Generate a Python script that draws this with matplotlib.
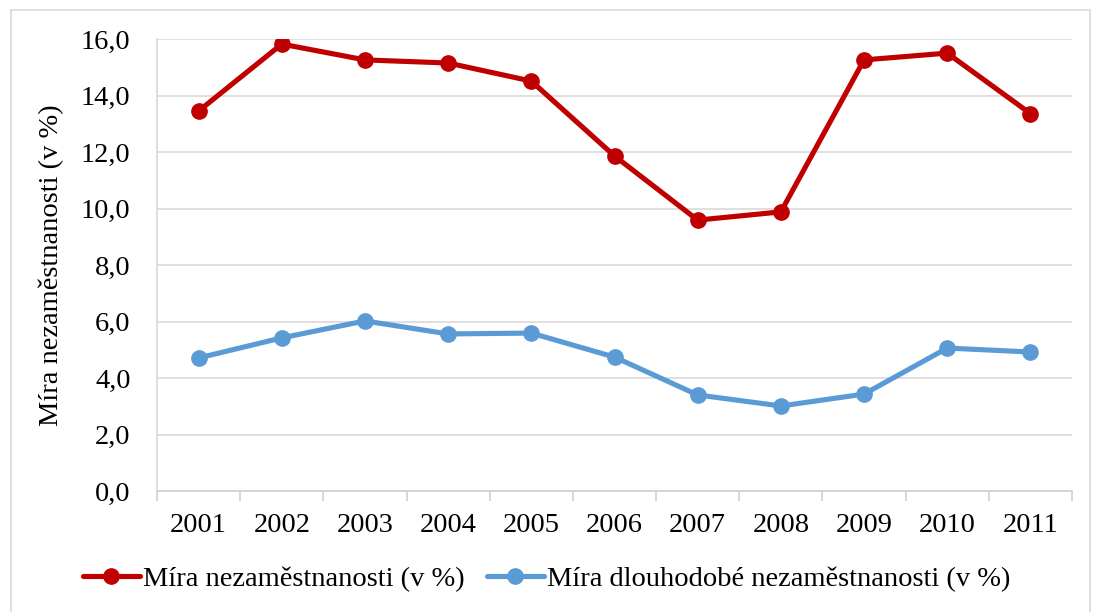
import matplotlib
matplotlib.use("Agg")
import matplotlib.pyplot as plt
from matplotlib.patches import Rectangle

years = ["2001", "2002", "2003", "2004", "2005", "2006", "2007", "2008", "2009", "2010", "2011"]
unemployment = [13.45, 15.82, 15.26, 15.15, 14.51, 11.86, 9.59, 9.88, 15.26, 15.50, 13.36]
long_term = [4.71, 5.42, 6.02, 5.56, 5.59, 4.74, 3.40, 3.01, 3.43, 5.06, 4.92]
yticks = [0, 2, 4, 6, 8, 10, 12, 14, 16]

plt.rcParams['font.family'] = ['Liberation Serif', 'DejaVu Serif']
FS = 20.5

fig = plt.figure(figsize=(10.93, 6.12), dpi=100)
ax = fig.add_axes([157 / 1093, 1 - 491 / 612, (1072 - 157) / 1093, (491 - 39) / 612])

# light frame around the whole chart
fig.patches.append(Rectangle((11 / 1093, -0.01), (1090 - 11) / 1093, 1 - 10 / 612 + 0.01,
                             transform=fig.transFigure, fill=False,
                             edgecolor='#D9D9D9', linewidth=1.2))

x = list(range(len(years)))
ax.plot(x, unemployment, color='#C00000', linewidth=3.7, marker='o', markersize=11,
        label='Míra nezaměstnanosti (v %)', solid_capstyle='round', solid_joinstyle='round')
ax.plot(x, long_term, color='#5B9BD5', linewidth=3.7, marker='o', markersize=11,
        label='Míra dlouhodobé nezaměstnanosti (v %)', solid_capstyle='round', solid_joinstyle='round')

ax.set_xlim(-0.5, len(years) - 0.5)
ax.set_ylim(0, 16)
ax.set_yticks(yticks)
ax.set_yticklabels([f"{v:.1f}".replace('.', ',') for v in yticks])
ax.set_xticks(x)
ax.set_xticklabels(years)
ax.set_xticks([i + 0.5 for i in range(-1, len(years))], minor=True)

ax.grid(axis='y', color='#D9D9D9', linewidth=1.2)
ax.set_axisbelow(True)
for s in ['top', 'right']:
    ax.spines[s].set_visible(False)
ax.spines['left'].set_color('#D9D9D9')
ax.spines['left'].set_linewidth(1.2)
ax.spines['bottom'].set_color('#D0D0D0')
ax.spines['bottom'].set_linewidth(1.2)

ax.tick_params(axis='y', length=0, pad=19, labelsize=FS)
ax.tick_params(axis='x', which='major', length=0, pad=16, labelsize=FS)
ax.tick_params(axis='x', which='minor', length=7, width=1.2, color='#D0D0D0')

ax.set_ylabel('Míra nezaměstnanosti (v %)', fontsize=FS, labelpad=12)

fig.legend(loc='center', bbox_to_anchor=(0.5, 1 - 579 / 612), ncol=2, frameon=False,
           fontsize=FS, handlelength=2.0, handletextpad=0.1, columnspacing=0.8)

fig.savefig('out.png', dpi=100)
